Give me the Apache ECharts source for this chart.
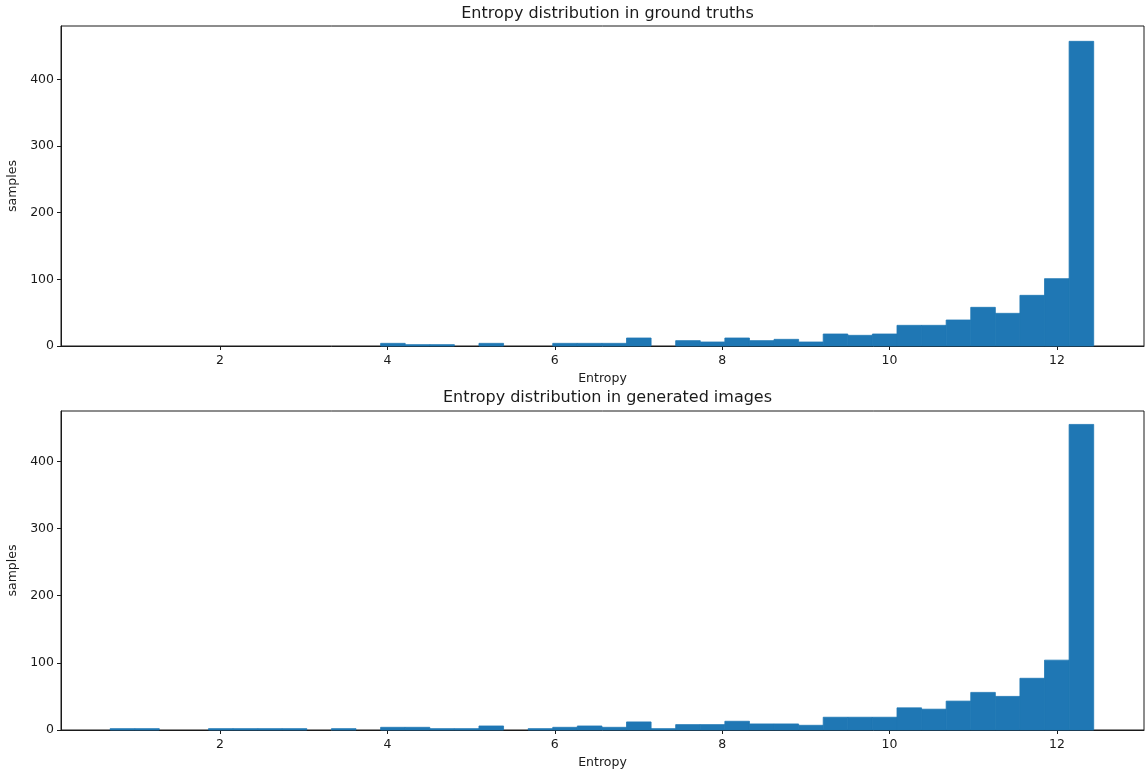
<!DOCTYPE html>
<html>
<head>
<meta charset="utf-8">
<title>Entropy distribution</title>
<script src="https://cdn.jsdelivr.net/npm/echarts@6/dist/echarts.min.js"></script>
<style>
  html, body { margin: 0; padding: 0; background: #fff; }
  #chart { width: 1147px; height: 778px; }
</style>
</head>
<body>
<div id="chart"></div>
<script>
// Histogram bins: 40 equal-width bins shared by both panels
const binStart = 0.687;
const binWidth = 0.2938;
const binCount = 40;

// Sample counts per bin
const truthCounts = [
  0, 0, 0, 0, 0, 0, 0, 0, 0, 0,
  0, 4, 2, 2, 0, 4, 0, 0, 4, 4,
  4, 12, 0, 8, 6, 12, 8, 10, 6, 18,
  16, 18, 31, 31, 39, 58, 49, 76, 101, 457
];
const generatedCounts = [
  2, 2, 0, 0, 2, 2, 2, 2, 0, 2,
  0, 4, 4, 2, 2, 6, 0, 2, 4, 6,
  4, 12, 2, 8, 8, 13, 9, 9, 7, 19,
  19, 19, 33, 31, 43, 56, 50, 77, 104, 455
];

const titles = ['Entropy distribution in ground truths', 'Entropy distribution in generated images'];
const xTicks = [2, 4, 6, 8, 10, 12];
const yTicks = [0, 100, 200, 300, 400];
const xRange = [0.1, 13.04];
const yMaxes = [480, 475];

const barColor = '#1f77b4';
const ink = '#1a1a1a';
const font = 'DejaVu Sans';

function binRows(counts) {
  const rows = [];
  for (let i = 0; i < binCount; i++) {
    const lo = binStart + i * binWidth;
    rows.push([lo, lo + binWidth, counts[i]]);
  }
  return rows;
}

// One filled rectangle per bin, from the bin's left edge to its right edge
function renderBin(params, api) {
  const topLeft = api.coord([api.value(0), api.value(2)]);
  const bottomRight = api.coord([api.value(1), 0]);
  const h = bottomRight[1] - topLeft[1];
  if (h <= 0) return null;
  return {
    type: 'rect',
    shape: {
      x: topLeft[0],
      y: topLeft[1],
      width: bottomRight[0] - topLeft[0],
      height: h
    },
    style: { fill: barColor, stroke: barColor, lineWidth: 0.8 }
  };
}

const grids = [
  { left: 61, width: 1083, top: 26, height: 320 },
  { left: 61, width: 1083, top: 411, height: 319 }
];

const option = {
  animation: false,
  backgroundColor: '#fff',
  textStyle: { fontFamily: font },
  title: [
    { text: titles[0], left: 602.5, textAlign: 'center', top: 1,
      textStyle: { fontFamily: font, fontSize: 16, fontWeight: 'normal', color: ink } },
    { text: titles[1], left: 602.5, textAlign: 'center', top: 385,
      textStyle: { fontFamily: font, fontSize: 16, fontWeight: 'normal', color: ink } }
  ],
  grid: grids.map(g => Object.assign({
    show: true, borderColor: ink, borderWidth: 1, backgroundColor: 'transparent',
    containLabel: false, outerBoundsMode: 'none'
  }, g)),
  xAxis: [0, 1].map(i => ({
    type: 'value',
    gridIndex: i,
    min: xRange[0],
    max: xRange[1],
    name: 'Entropy',
    nameLocation: 'middle',
    nameGap: 26,
    nameTextStyle: { fontFamily: font, fontSize: 12.5, color: ink },
    axisLine: { show: true, onZero: false, lineStyle: { color: ink, width: 1 } },
    axisTick: { show: true, length: 4, customValues: xTicks, lineStyle: { color: ink } },
    axisLabel: { customValues: xTicks, margin: 8, fontFamily: font, fontSize: 12.5, color: ink },
    splitLine: { show: false }
  })),
  yAxis: [0, 1].map(i => ({
    type: 'value',
    gridIndex: i,
    min: 0,
    max: yMaxes[i],
    name: 'samples',
    nameLocation: 'middle',
    nameGap: 36,
    nameTextStyle: { fontFamily: font, fontSize: 12.5, color: ink },
    axisLine: { show: true, lineStyle: { color: ink, width: 1 } },
    axisTick: { show: true, length: 4, customValues: yTicks, lineStyle: { color: ink } },
    axisLabel: { customValues: yTicks, margin: 7, fontFamily: font, fontSize: 12.5, color: ink },
    splitLine: { show: false }
  })),
  series: [truthCounts, generatedCounts].map((counts, i) => ({
    type: 'custom',
    name: titles[i],
    xAxisIndex: i,
    yAxisIndex: i,
    renderItem: renderBin,
    encode: { x: [0, 1], y: 2 },
    data: binRows(counts),
    z: 1
  }))
};

const chart = echarts.init(document.getElementById('chart'), null, { renderer: 'canvas' });
chart.setOption(option);
</script>
</body>
</html>
